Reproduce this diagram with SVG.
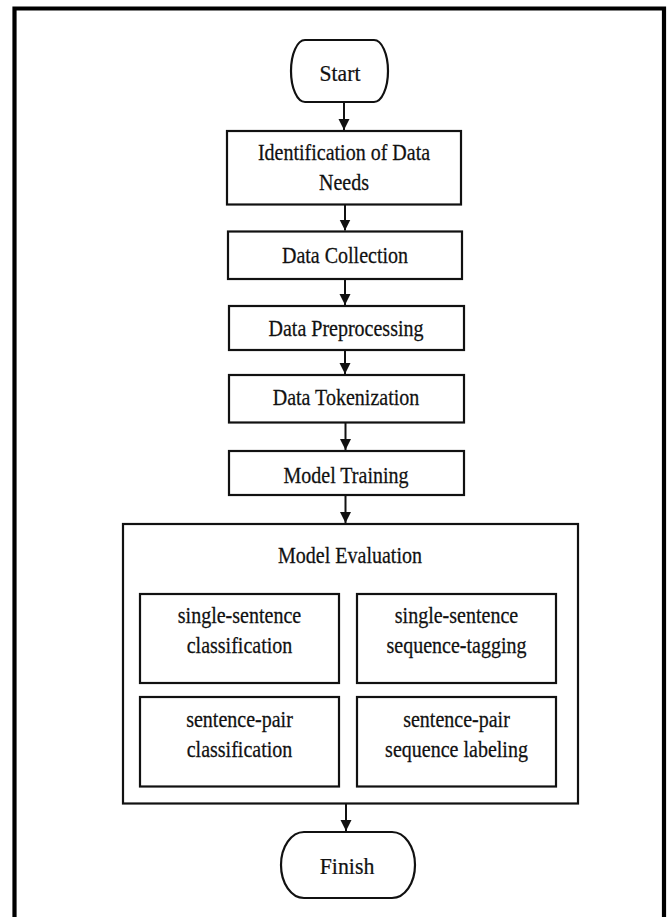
<svg xmlns="http://www.w3.org/2000/svg" width="669" height="917" viewBox="0 0 669 917">
<defs>
<style>
.bx{fill:#fff;stroke:#111;stroke-width:2.2}
.fr{fill:none;stroke:#000;stroke-width:4.2}
text{font-family:'Liberation Serif','Times New Roman',serif;fill:#111;text-anchor:middle;stroke:#111;stroke-width:0.25}
.t{font-size:22.5px}
.tp{font-size:24px}
.ln{stroke:#111;stroke-width:2;fill:none;marker-end:url(#ah)}
</style>
<marker id="ah" viewBox="0 0 10 10" refX="10" refY="5" markerWidth="5.5" markerHeight="6" markerUnits="strokeWidth" orient="auto">
<path d="M0,0 L10,5 L0,10 Z" fill="#111"/>
</marker>
</defs>
<rect width="669" height="917" fill="#fff"/>
<path class="fr" d="M14.5,917 V8.5 H664 V917"/>
<g id="start">
<rect class="bx" x="291" y="40" width="97" height="62" rx="14" ry="31"/>
<text class="tp" transform="translate(340,81) scale(0.9,1)">Start</text>
</g>
<g id="identification">
<rect class="bx" x="227" y="131" width="234" height="73.5"/>
<text class="t" transform="translate(344,160) scale(0.89,1)">Identification of Data</text>
<text class="t" transform="translate(344,190) scale(0.89,1)">Needs</text>
</g>
<g id="collection">
<rect class="bx" x="228" y="231.5" width="234" height="47.5"/>
<text class="t" transform="translate(345,263) scale(0.89,1)">Data Collection</text>
</g>
<g id="preprocessing">
<rect class="bx" x="229" y="306" width="235" height="44"/>
<text class="t" transform="translate(346,336) scale(0.89,1)">Data Preprocessing</text>
</g>
<g id="tokenization">
<rect class="bx" x="229" y="375" width="235" height="47.5"/>
<text class="t" transform="translate(346,405) scale(0.89,1)">Data Tokenization</text>
</g>
<g id="training">
<rect class="bx" x="229" y="451" width="235" height="44"/>
<text class="t" transform="translate(346,483) scale(0.89,1)">Model Training</text>
</g>
<g id="evaluation">
<rect class="bx" x="123" y="524" width="455" height="279.5"/>
<text class="t" transform="translate(350,563) scale(0.89,1)">Model Evaluation</text>
</g>
<g id="ssc">
<rect class="bx" x="140" y="594" width="199" height="89"/>
<text class="t" transform="translate(239.5,623) scale(0.89,1)">single-sentence</text>
<text class="t" transform="translate(239.5,653) scale(0.89,1)">classification</text>
</g>
<g id="sst">
<rect class="bx" x="357" y="594" width="199" height="89"/>
<text class="t" transform="translate(456.5,623) scale(0.89,1)">single-sentence</text>
<text class="t" transform="translate(456.5,653) scale(0.89,1)">sequence-tagging</text>
</g>
<g id="spc">
<rect class="bx" x="140" y="697" width="199" height="89.5"/>
<text class="t" transform="translate(239.5,727) scale(0.89,1)">sentence-pair</text>
<text class="t" transform="translate(239.5,757) scale(0.89,1)">classification</text>
</g>
<g id="spl">
<rect class="bx" x="357" y="697" width="199" height="89.5"/>
<text class="t" transform="translate(456.5,727) scale(0.89,1)">sentence-pair</text>
<text class="t" transform="translate(456.5,757) scale(0.89,1)">sequence labeling</text>
</g>
<g id="finish">
<rect class="bx" x="281" y="832" width="134" height="66" rx="23" ry="33"/>
<text class="tp" transform="translate(347,874) scale(0.91,1)">Finish</text>
</g>
<g id="connectors">
<line class="ln" x1="344" y1="102" x2="344" y2="130"/>
<line class="ln" x1="345" y1="205" x2="345" y2="230.5"/>
<line class="ln" x1="345" y1="279" x2="345" y2="305"/>
<line class="ln" x1="345" y1="350" x2="345" y2="374"/>
<line class="ln" x1="345.5" y1="423" x2="345.5" y2="450"/>
<line class="ln" x1="345.5" y1="495" x2="345.5" y2="523"/>
<line class="ln" x1="346" y1="804" x2="346" y2="831"/>
</g>
</svg>
